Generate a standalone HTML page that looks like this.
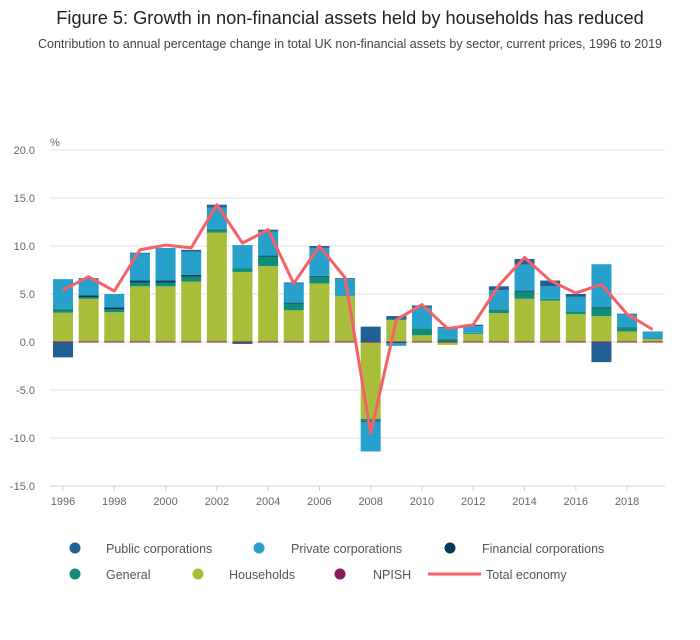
<!DOCTYPE html>
<html><head><meta charset="utf-8"><style>
body{margin:0;background:#fff;width:700px;height:635px;overflow:hidden;font-family:"Liberation Sans",sans-serif}
text{font-family:"Liberation Sans",sans-serif}
</style></head><body>
<svg width="700" height="635">
<text x="350" y="24" text-anchor="middle" font-size="18.2" fill="#222">Figure 5: Growth in non-financial assets held by households has reduced</text>
<text x="350" y="48" text-anchor="middle" font-size="12.5" fill="#444">Contribution to annual percentage change in total UK non-financial assets by sector, current prices, 1996 to 2019</text>
<g id="grid"></g><g id="bars"></g><g id="line"></g><g id="axes"></g>
<g font-size="12.5" fill="#555">
<circle cx="75" cy="548" r="5.5" fill="#206095"/><text x="106" y="553" fill="#555">Public corporations</text>
<circle cx="259" cy="548" r="5.5" fill="#27a0cc"/><text x="291" y="553" fill="#555">Private corporations</text>
<circle cx="450" cy="548" r="5.5" fill="#003c57"/><text x="482" y="553" fill="#555">Financial corporations</text>
<circle cx="75" cy="574" r="5.5" fill="#118c7b"/><text x="106" y="579" fill="#555">General</text>
<circle cx="198" cy="574" r="5.5" fill="#a8bd3a"/><text x="229" y="579" fill="#555">Households</text>
<circle cx="340" cy="574" r="5.5" fill="#871a5b"/><text x="373" y="579" fill="#555">NPISH</text>
<line x1="428" y1="574" x2="481" y2="574" stroke="#f66068" stroke-width="3"/><text x="486" y="579" fill="#555">Total economy</text>
</g>
</svg>
<script>
const years=[1996,1997,1998,1999,2000,2001,2002,2003,2004,2005,2006,2007,2008,2009,2010,2011,2012,2013,2014,2015,2016,2017,2018,2019];
const households=[3.05,4.5,3.1,5.8,5.8,6.3,11.4,7.3,7.9,3.3,6.1,4.8,-8.0,2.3,0.7,-0.3,0.85,3.0,4.5,4.3,2.9,2.7,1.1,0.3];
const general=[0.4,0.15,0.3,0.4,0.4,0.5,0.4,0.4,1.0,0.7,0.7,0.05,-0.2,0.1,0.7,0.35,0.1,0.4,0.75,0.2,0.3,0.8,0.4,0.1];
const financial=[0,0.2,0.2,0.2,0.2,0.2,0,0,0.1,0.1,0.1,0,-0.1,-0.1,0,0,0,0,0.1,0,0,0.1,0.05,0];
const privateCorp=[3.1,1.7,1.4,2.8,3.4,2.4,2.2,2.4,2.5,2.0,2.9,1.7,-3.1,-0.3,2.2,1.1,0.7,2.0,2.7,1.3,1.5,4.5,1.3,0.7];
const publicCorp=[-1.6,0.1,0,0.1,0,0.2,0.3,-0.2,0.2,0.1,0.2,0.1,1.6,0.3,0.2,0.1,0.15,0.4,0.6,0.6,0.3,-2.1,0.1,0];
const total=[5.4,6.8,5.3,9.6,10.1,9.8,14.3,10.3,11.7,6.1,10.0,6.7,-9.5,2.3,3.9,1.4,1.8,5.9,8.8,6.4,5.1,6.0,2.9,1.3];
const yTicks=[20,15,10,5,0,-5,-10,-15];
const xTickYears=[1996,1998,2000,2002,2004,2006,2008,2010,2012,2014,2016,2018];
const NS='http://www.w3.org/2000/svg';
const y=v=>342-v*9.6;
const x=yr=>63+(yr-1996)*25.64;
function mk(tag,attrs,parent,txt){const e=document.createElementNS(NS,tag);for(const k in attrs)e.setAttribute(k,attrs[k]);if(txt!==undefined)e.textContent=txt;document.getElementById(parent).appendChild(e);return e;}
yTicks.forEach(t=>{
 const l=mk('line',{x1:50,x2:665,y1:y(t),y2:y(t),stroke:'#e2e2e2','stroke-width':1},'grid');
 
 
 const tx=mk('text',{x:35,y:y(t)+4,'text-anchor':'end','font-size':11,fill:'#666'},'axes',t.toFixed(1));
 
 
});
const pc=mk('text',{x:50,y:146,'font-size':11,fill:'#666'},'axes','%');


const ax=mk('line',{x1:50,x2:665,y1:486,y2:486,stroke:'#c8d0e0','stroke-width':1},'axes');


xTickYears.forEach(yr=>{
 mk('line',{x1:x(yr),x2:x(yr),y1:486,y2:491,stroke:'#c8d0e0'},'axes');
 const t=mk('text',{x:x(yr),y:505,'text-anchor':'middle','font-size':11,fill:'#666'},'axes',yr);
 
 
});
const series=[['households',households,'#a8bd3a'],['general',general,'#118c7b'],['financial',financial,'#003c57'],['private',privateCorp,'#27a0cc'],['public',publicCorp,'#206095']];
years.forEach((yr,i)=>{
 let pos=0,neg=0;const bw=20;
 series.forEach(([nm,arr,c])=>{
  const v=arr[i];if(!v)return;
  let a,b;if(v>0){a=pos;b=pos+v;pos=b;}else{a=neg;b=neg+v;neg=b;}
  const r=mk('rect',{x:x(yr)-bw/2,width:bw,y:Math.min(y(a),y(b)),height:Math.abs(y(a)-y(b)),fill:c},'bars');
  
  
 });
 mk('rect',{x:x(yr)-bw/2,width:bw,y:341.5,height:1,fill:'#871a5b'},'bars');
});
const p=mk('polyline',{points:years.map((yr,i)=>x(yr)+','+y(total[i])).join(' '),fill:'none',stroke:'#f66068','stroke-width':3,'stroke-linejoin':'round'},'line');


</script>
</body></html>
